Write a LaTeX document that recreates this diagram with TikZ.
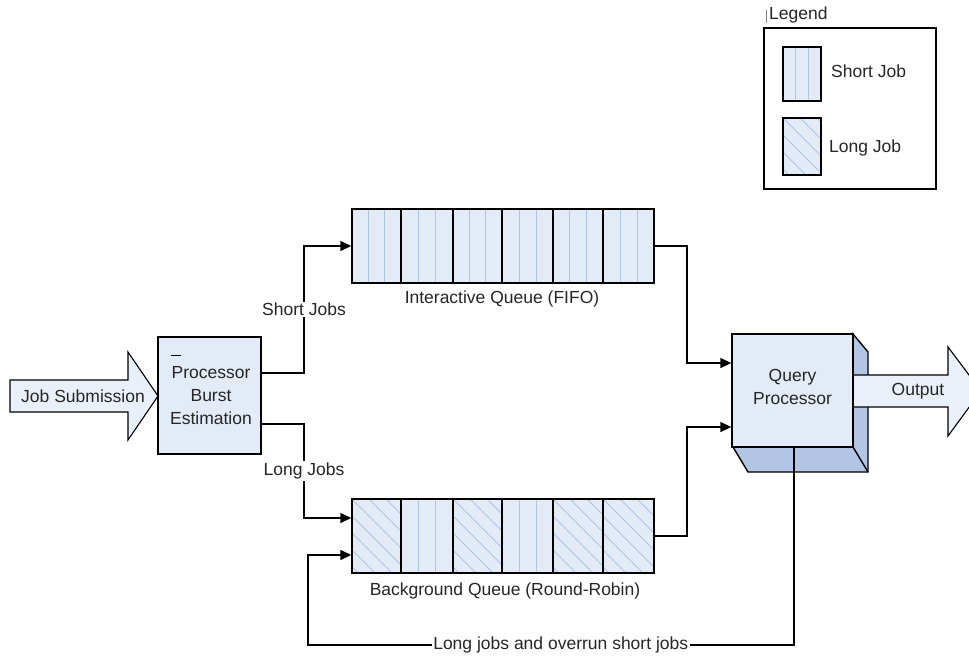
\documentclass[tikz,border=0pt]{standalone}
\usepackage{fontspec}
\setmainfont{Liberation Sans}
\usetikzlibrary{arrows.meta}
\definecolor{boxfill}{HTML}{E3EBF7}
\definecolor{stripe}{HTML}{AFC4E4}
\definecolor{sidefill}{HTML}{B2C5E5}
\definecolor{arrowfill}{HTML}{EAF0F9}
\definecolor{txt}{HTML}{262626}
\newcommand\shortcell[4]{%
  \fill[boxfill] (#1,#2) rectangle ++({#3},#4);
  \draw[stripe,line width=0.9pt] ({#1+(#3)/3},#2) -- ++(0,#4) ({#1+2*(#3)/3},#2) -- ++(0,#4);}
\newcommand\longcell[4]{%
  \begin{scope}
  \clip (#1,#2) rectangle ++({#3},#4);
  \fill[boxfill] (#1,#2) rectangle ++({#3},#4);
  \foreach \k in {-5,...,3} \draw[stripe,line width=0.9pt] ({#1+\k*17},#2) -- ++(90,90);
  \end{scope}}
\begin{document}
\begin{tikzpicture}[x=1pt,y=-1pt,line width=1.4pt,
  lbl/.style={font=\fontsize{17.5}{23}\selectfont, text=txt, inner sep=1.5pt, align=center},
  conn/.style={line width=1.4pt, -{Triangle[length=11pt,width=10pt]}},
  blockarrow/.style={fill=arrowfill, line width=1.1pt, line join=miter},
  queue/.style={draw, minimum width=302pt, minimum height=74pt, inner sep=0pt},
  procbox/.style={draw, fill=boxfill, inner sep=0pt}]
\useasboundingbox (0,0) rectangle (969,659);
\clip (0,0) rectangle (969,659);
\fill[white] (0,0) rectangle (969,659);

% Legend
\draw[gray,line width=0.6pt] (766,10) -- (766,23);
\node[lbl, anchor=west] (legtitle) at (767,15) {Legend};
\draw[line width=1.2pt] (764,28) rectangle (936,189);
\shortcell{783}{47}{38}{54}
\draw[line width=1.3pt] (783,47) rectangle (821,101);
\node[lbl, anchor=west] (legshort) at (829,71) {Short Job};
\longcell{783}{118}{38}{57}
\draw[line width=1.3pt] (783,118) rectangle (821,175);
\node[lbl, anchor=west] (leglong) at (827,148) {Long Job};

% Job submission arrow
\draw[blockarrow] (10,380) -- (128,380) -- (128,352) -- (158,396) -- (128,440) -- (128,412) -- (10,412) -- cycle;
\node[lbl] (js) at (83,396) {Job Submission};

% Processor burst estimation
\node[procbox, minimum width=103pt, minimum height=117pt] (pbe) at (209.5,395.5) {};
\node[lbl] (pbetext) at (211,396) {Processor\\Burst\\Estimation};
\draw[line width=0.9pt] (171,355) -- (181,355);

% Interactive queue
\node[queue] (iq) at (503,246) {};
\shortcell{352}{209}{49}{74}
\shortcell{401}{209}{52}{74}
\shortcell{453}{209}{49}{74}
\shortcell{502}{209}{51}{74}
\shortcell{553}{209}{50}{74}
\shortcell{603}{209}{51}{74}
\draw (352,209) rectangle (654,283);
\foreach \s in {401,453,502,553,603} \draw (\s,209) -- (\s,283);
\node[lbl] (iqlabel) at (502,299) {Interactive Queue (FIFO)};

% Background queue
\node[queue] (bq) at (503,536) {};
\longcell{352}{499}{49}{74}
\shortcell{401}{499}{52}{74}
\longcell{453}{499}{49}{74}
\shortcell{502}{499}{51}{74}
\longcell{553}{499}{50}{74}
\longcell{603}{499}{51}{74}
\draw (352,499) rectangle (654,573);
\foreach \s in {401,453,502,553} \draw (\s,499) -- (\s,573);
\draw[line width=2.2pt] (603,499) -- (603,573);
\node[lbl] (bqlabel) at (505,591) {Background Queue (Round-Robin)};

% Query processor (3D box)
\filldraw[fill=sidefill, line join=miter] (853,334) -- (868,352) -- (868,472) -- (748,472) -- (733,447) -- (853,447) -- cycle;
\draw (853,447) -- (868,472);
\draw[blockarrow] (853,375) -- (948,375) -- (948,347) -- (981,391) -- (948,436) -- (948,407) -- (853,407);
\node[lbl] (outlabel) at (918,391) {Output};
\node[procbox, minimum width=121pt, minimum height=113pt] (qp) at (792.5,390.5) {};
\node[lbl] (qptext) at (792.5,387) {Query\\Processor};

% Connectors
\draw[conn] ([yshift=22.5pt]pbe.east) -- (304,373) |- node[pos=0.25, lbl, fill=white] {Short Jobs} (iq.west);
\draw[conn] ([yshift=-28.5pt]pbe.east) -- (304,424) |- node[pos=0.25, lbl, fill=white] {Long Jobs} ([yshift=18pt]bq.west);
\draw[conn] (iq.east) -- (687,246) |- ([yshift=27.5pt]qp.west);
\draw[conn] (bq.east) -- (687,536) |- ([yshift=-36.5pt]qp.west);
\draw[conn] ([xshift=1.5pt]qp.south) -- (794,645) -- node[pos=0.48, lbl, fill=white] {Long jobs and overrun short jobs} (308,645) |- ([yshift=-19pt]bq.west);
\end{tikzpicture}
\end{document}
